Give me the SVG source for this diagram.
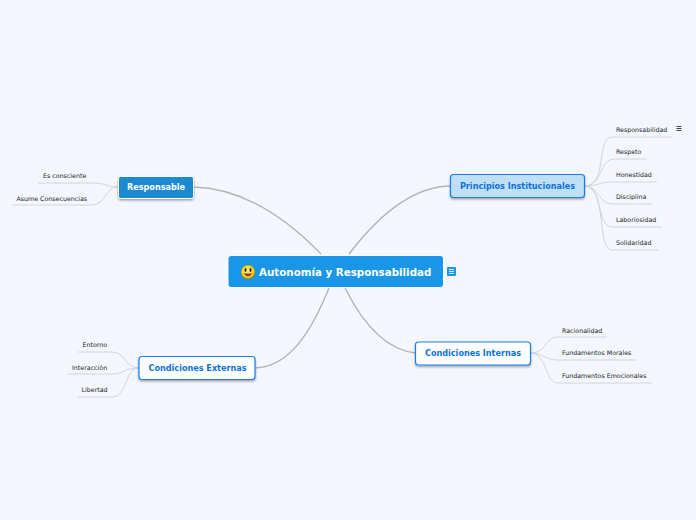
<svg xmlns="http://www.w3.org/2000/svg" width="696" height="520" viewBox="0 0 696 520">
<defs>
<radialGradient id="sm" cx="0.45" cy="0.4" r="0.65"><stop offset="0" stop-color="#fff27a"/><stop offset="0.7" stop-color="#f2d01c"/><stop offset="1" stop-color="#a08a10"/></radialGradient>
<filter id="sh" x="-10%" y="-20%" width="120%" height="150%"><feDropShadow dx="0" dy="1.5" stdDeviation="1.2" flood-color="#000" flood-opacity="0.35"/></filter>
</defs>
<style>
text{font-family:"DejaVu Sans",Verdana,sans-serif}
.t{font-size:6.300px;fill:#222}
.m{font-size:8.100px;font-weight:bold;fill:#0a72e0;text-anchor:middle}
.w{fill:#fff}
.c1{fill:none;stroke:#b4b4b6;stroke-width:1.400}
.c2{fill:none;stroke:#d2d4da;stroke-width:1}
</style>
<rect width="696" height="520" fill="#f4f7ff"/>
<g id="connectors">
<path class="c1" d="M349 254C375 220 410 186 451 186"/>
<path class="c1" d="M321 254C290 222 245 188 193 187"/>
<path class="c1" d="M329 288C312 330 290 367 255 368"/>
<path class="c1" d="M345 288C362 322 385 350 416 353"/>
<path class="c2" d="M584 186C608 186 596 137 612 137H672"/>
<path class="c2" d="M584 186C604 186 598 159 615 159H647"/>
<path class="c2" d="M584 186C598 186 600 182 612 182H657"/>
<path class="c2" d="M584 186C600 186 598 204 612 204H652"/>
<path class="c2" d="M584 186C604 186 596 227 612 227H662"/>
<path class="c2" d="M584 186C608 186 596 250 612 250H658"/>
<path class="c2" d="M530 353C548 353 544 337 558 337H607"/>
<path class="c2" d="M530 353C544 353 544 360 558 360H637"/>
<path class="c2" d="M530 353C548 353 544 383 558 383H652"/>
<path class="c2" d="M119 187C104 187 108 183 92 183H38"/>
<path class="c2" d="M119 187C104 187 106 205 92 205H12"/>
<path class="c2" d="M139 368C124 368 126 352 112 352H78"/>
<path class="c2" d="M139 368C124 368 124 374 112 374H67"/>
<path class="c2" d="M139 368C124 368 128 397 112 397H77"/>
</g>
<g id="central">
<rect x="228" y="255.500" width="215.500" height="32" rx="3" fill="#1a96e8" stroke="#fff" stroke-width="1"/>
<circle cx="248" cy="272" r="7" fill="url(#sm)" stroke="#8a7a10" stroke-width="0.500"/>
<ellipse cx="245.500" cy="270" rx="1" ry="2" fill="#222"/><ellipse cx="250.500" cy="270" rx="1" ry="2" fill="#222"/>
<path d="M243.500 273.500Q248 279 252.500 273.500Z" fill="#a33"/>
<text x="259" y="276" font-size="10.300" font-weight="bold" class="w">Autonomía y Responsabilidad</text>
<rect x="447" y="267" width="9" height="9" rx="1" fill="#1a96e8"/>
<path d="M449 269.500h5M449 271.500h5M449 273.500h5" stroke="#d8eeff" stroke-width="1"/>
</g>
<g id="n-principios">
<rect x="450.500" y="174.500" width="134" height="23" rx="3" fill="#c0dff5" stroke="#1a7fe8" stroke-width="1.200" filter="url(#sh)"/>
<text x="517.500" y="189" class="m">Principios Institucionales</text>
</g>
<g id="n-responsable">
<rect x="118.500" y="176.500" width="75" height="22" rx="2" fill="#1f8ad0" stroke="#fff" stroke-width="1" filter="url(#sh)"/>
<text x="156" y="190" font-size="8.100" font-weight="bold" class="w" text-anchor="middle">Responsable</text>
</g>
<g id="n-externas">
<rect x="139" y="356.500" width="116" height="23" rx="3" fill="#fff" stroke="#1a7fe8" stroke-width="1.200" filter="url(#sh)"/>
<text x="197.500" y="371" class="m">Condiciones Externas</text>
</g>
<g id="n-internas">
<rect x="415.500" y="342" width="115" height="23" rx="3" fill="#fff" stroke="#1a7fe8" stroke-width="1.200" filter="url(#sh)"/>
<text x="473" y="356" class="m">Condiciones Internas</text>
</g>
<g id="l-1"><text x="616" y="132" class="t">Responsabilidad</text><path d="M676.500 126.500h5M676.500 128.500h5M676.500 130.500h5" stroke="#444" stroke-width="1.200"/></g>
<g id="l-2"><text x="616" y="154" class="t">Respeto</text></g>
<g id="l-3"><text x="616" y="177" class="t">Honestidad</text></g>
<g id="l-4"><text x="616" y="199" class="t">Disciplina</text></g>
<g id="l-5"><text x="616" y="222" class="t">Laboriosidad</text></g>
<g id="l-6"><text x="616" y="245" class="t">Solidaridad</text></g>
<g id="l-7"><text x="562" y="333" class="t">Racionalidad</text></g>
<g id="l-8"><text x="562" y="355" class="t">Fundamentos Morales</text></g>
<g id="l-9"><text x="562" y="378" class="t">Fundamentos Emocionales</text></g>
<g id="l-10"><text x="43" y="178" class="t">Es consciente</text></g>
<g id="l-11"><text x="16.500" y="201" class="t">Asume Consecuencias</text></g>
<g id="l-12"><text x="82.500" y="347" class="t">Entorno</text></g>
<g id="l-13"><text x="72" y="370" class="t">Interacción</text></g>
<g id="l-14"><text x="81.500" y="392" class="t">Libertad</text></g>
</svg>
